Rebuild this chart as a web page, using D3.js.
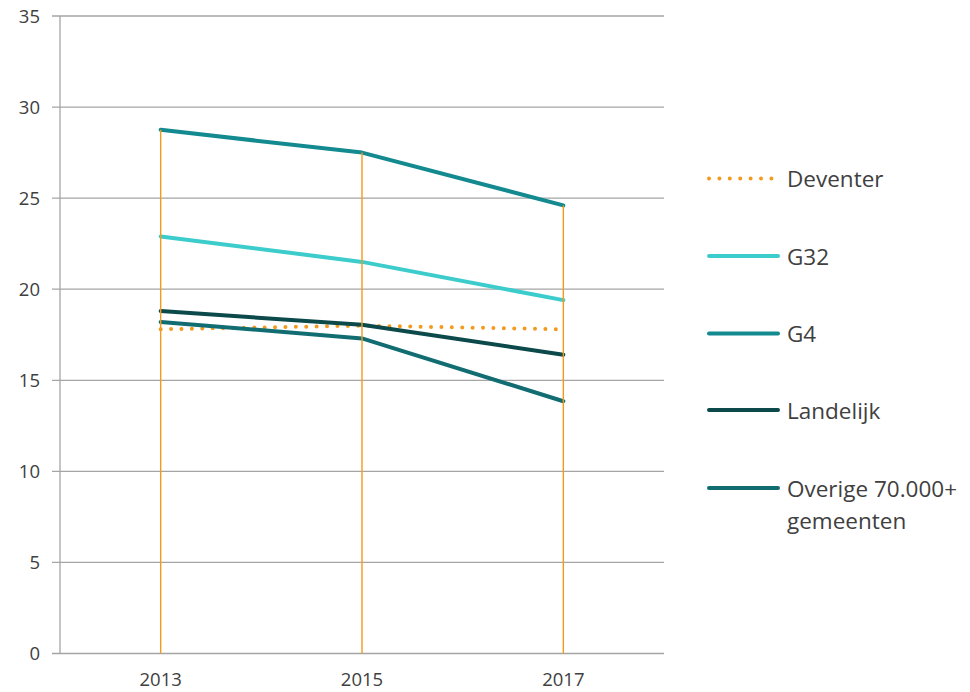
<!DOCTYPE html>
<html><head><meta charset="utf-8">
<script src="https://cdn.jsdelivr.net/npm/d3@7"></script>
<style>body{margin:0;background:#fff}svg{display:block;font-family:"Open Sans",sans-serif}</style>
</head><body><svg id="c" width="970" height="692"></svg>
<script>
const categories = ["2013","2015","2017"];
const seriesNames = ["Deventer","G32","G4","Landelijk","Overige 70.000+ gemeenten"];
const deventer = [17.8, 18.0, 17.8];
const g32 = [22.9, 21.5, 19.4];
const g4 = [28.75, 27.5, 24.6];
const landelijk = [18.8, 18.05, 16.4];
const overige = [18.2, 17.3, 13.85];
const yTicks = [0,5,10,15,20,25,30,35];

const colors = {"Deventer":"#f39a1e","G32":"#3ccccc","G4":"#138a90","Landelijk":"#0b494b","Overige 70.000+ gemeenten":"#116d71"};
const seriesVals = [deventer,g32,g4,landelijk,overige];
const series = seriesNames.map((n,i)=>({name:n, values:seriesVals[i]}));

const svg = d3.select("#c");
const L=60, R=664, T=16, B=653.5;
const x = d3.scalePoint().domain(categories).range([L,R]).padding(0.5);
const y = d3.scaleLinear().domain([0,35]).range([B,T]);

// gridlines
svg.append("g").selectAll("line").data(yTicks).join("line")
  .attr("x1",52).attr("x2",R).attr("y1",d=>y(d)).attr("y2",d=>y(d))
  .attr("stroke","#a5a5a5").attr("stroke-width",1.3);
// y axis line
svg.append("line").attr("x1",L).attr("x2",L).attr("y1",T).attr("y2",B).attr("stroke","#a5a5a5").attr("stroke-width",1.3);
// y labels
svg.append("g").selectAll("text").data(yTicks).join("text")
  .attr("x",40).attr("y",d=>y(d)+6.5).attr("text-anchor","end")
  .attr("font-size",18.5).attr("fill","#404040").text(d=>d);
// x labels
svg.append("g").selectAll("text").data(categories).join("text")
  .attr("x",d=>x(d)).attr("y",686).attr("text-anchor","middle")
  .attr("font-size",18.5).attr("fill","#404040").text(d=>d);

const line = d3.line().x((d,i)=>x(categories[i])).y(d=>y(d));
series.forEach(s=>{
  const p = svg.append("path").datum(s.values).attr("d",line).attr("fill","none")
    .attr("stroke",colors[s.name]).attr("stroke-width",4).attr("stroke-linejoin","round");
  if(s.name==="Deventer") p.attr("stroke-dasharray","0 10.4").attr("stroke-linecap","round");
  else p.attr("stroke-linecap","round");
});
// drop lines from highest value to axis
svg.append("g").selectAll("line").data(categories).join("line")
  .attr("x1",d=>x(d)).attr("x2",d=>x(d))
  .attr("y1",(d,i)=>y(d3.max(seriesVals,v=>v[i]))).attr("y2",B)
  .attr("stroke","#f39a1e").attr("stroke-width",1.4);

// legend
const legY = [178.5,256,333.5,410,488];
const leg = svg.append("g");
series.forEach((s,i)=>{
  const g = leg.append("g");
  const ln = g.append("line").attr("x1",709).attr("x2",778).attr("y1",legY[i]).attr("y2",legY[i])
    .attr("stroke",colors[s.name]).attr("stroke-width",4).attr("stroke-linecap","round");
  if(s.name==="Deventer") ln.attr("stroke-dasharray","0 10.4");
  const t = g.append("text").attr("x",787).attr("y",legY[i]+8.5).attr("font-size",22.5).attr("fill","#404040");
  if(s.name.startsWith("Overige")){
    t.append("tspan").attr("x",787).text("Overige 70.000+");
    t.append("tspan").attr("x",787).attr("dy",32).text("gemeenten");
  } else t.text(s.name);
});
</script></body></html>
